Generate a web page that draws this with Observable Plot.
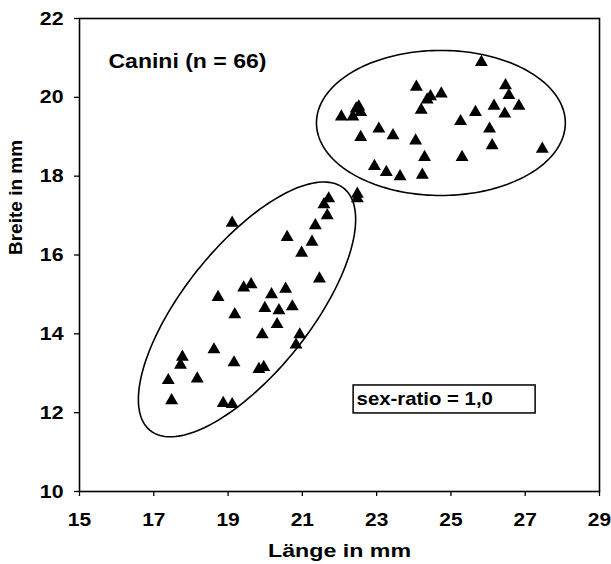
<!DOCTYPE html>
<html><head><meta charset="utf-8">
<script src="https://cdn.jsdelivr.net/npm/d3@7"></script>
<script src="https://cdn.jsdelivr.net/npm/@observablehq/plot@0.6"></script>
<style>body{margin:0;background:#fff}</style>
</head><body><div id="chart"></div>
<script>
// Lower cluster (33 teeth)
const lowerLength = [21.71,21.58,21.67,19.11,21.35,20.59,21.26,20.98,21.46,19.42,19.62,18.73,20.17,20.55,19.99,20.37,20.73,19.18,20.32,19.92,20.93,20.83,18.62,17.77,17.72,19.16,19.83,19.96,17.39,18.17,17.48,18.87,19.11];
const lowerWidth  = [17.43,17.28,17.00,16.81,16.75,16.45,16.33,16.05,15.40,15.17,15.25,14.93,15.00,15.14,14.65,14.59,14.69,14.49,14.24,13.98,13.98,13.72,13.60,13.41,13.21,13.27,13.10,13.15,12.82,12.86,12.31,12.24,12.21];
// Upper cluster (33 teeth)
const upperLength = [25.82,24.07,26.47,24.74,26.56,24.36,24.45,26.83,26.16,24.20,25.66,26.45,22.45,22.52,22.57,22.05,22.36,25.26,23.06,26.04,23.44,22.57,24.05,26.11,27.46,24.29,25.30,22.94,23.26,23.63,24.23,22.48,22.48];
const upperWidth  = [20.89,20.26,20.30,20.09,20.05,19.94,20.02,19.78,19.78,19.68,19.62,19.58,19.71,19.76,19.62,19.51,19.51,19.39,19.20,19.20,19.03,18.99,18.90,18.78,18.69,18.48,18.48,18.25,18.10,17.99,18.03,17.55,17.43];

const xTicks = [15,17,19,21,23,25,27,29];
const yTicks = [10,12,14,16,18,20,22];
const xLabel = "Länge in mm";
const yLabel = "Breite in mm";
const titleText = "Canini (n = 66)";
const ratioText = "sex-ratio = 1,0";

// group ellipses: centre and two conjugate semi-axis vectors in data units
const ellipseSpecs = [
  {cx: 19.51, cy: 14.62, ux: 2.61, uy: 3.07, vx: 1.32, vy: -1.01},
  {cx: 24.73, cy: 19.35, ux: 3.35, uy: 0, vx: 0, vy: 1.84}
];
// annotation box extent in data units
const ratioBox = [{x1: 22.38, x2: 27.28, y1: 11.98, y2: 12.69, label: ratioText}];

const points = [
  ...lowerLength.map((x, i) => ({x, y: lowerWidth[i]})),
  ...upperLength.map((x, i) => ({x, y: upperWidth[i]}))
];
const ellipsePts = [];
ellipseSpecs.forEach((e, k) => {
  for (let d = 0; d <= 360; d += 2) {
    const t = d * Math.PI / 180;
    ellipsePts.push({k, x: e.cx + e.ux*Math.cos(t) + e.vx*Math.sin(t), y: e.cy + e.uy*Math.cos(t) + e.vy*Math.sin(t)});
  }
});

const font = "'Liberation Sans', Arial, sans-serif";
const chart = Plot.plot({
  width: 611, height: 564,
  marginLeft: 79, marginRight: 12, marginTop: 18, marginBottom: 73,
  style: {fontFamily: font, fontWeight: "bold", fontSize: "19px", color: "#000", background: "#fff"},
  x: {domain: [15, 29]},
  y: {domain: [10, 22]},
  marks: [
    Plot.frame({stroke: "#000", strokeWidth: 1.6}),
    Plot.axisX({ticks: xTicks, tickSize: 5, tickPadding: 16, label: null, stroke: "#000", strokeWidth: 1.3}),
    Plot.axisY({ticks: yTicks, tickSize: 5, tickPadding: 11, label: null, stroke: "#000", strokeWidth: 1.3}),
    Plot.line(ellipsePts, {x: "x", y: "y", z: "k", stroke: "#000", strokeWidth: 1.6}),
    Plot.dot(points, {x: "x", y: "y", symbol: "triangle", r: 4.8, fill: "#000", stroke: "none"}),
    Plot.rect(ratioBox, {x1: "x1", x2: "x2", y1: "y1", y2: "y2", fill: "#fff", stroke: "#000", strokeWidth: 1.5}),
    Plot.text(ratioBox, {x: "x1", y: d => (d.y1 + d.y2) / 2, text: "label", textAnchor: "start", dx: 3, fontSize: 18.5}),
    Plot.text([titleText], {frameAnchor: "top-left", lineAnchor: "middle", text: d => d, textAnchor: "start", dx: 29, dy: 43, fontSize: 19.5}),
    Plot.text([xLabel], {frameAnchor: "bottom", lineAnchor: "middle", text: d => d, dy: 59, fontSize: 19}),
    Plot.text([yLabel], {frameAnchor: "left", text: d => d, dx: -64, rotate: -90, fontSize: 19})
  ]
});
document.getElementById("chart").append(chart);

// the reference scan is stretched horizontally: widen horizontal text glyphs to match
const stretchBy = new Map([
  ...xTicks.map(v => [String(v), 1.1]),
  ...yTicks.map(v => [String(v), 1.12]),
  [ratioText, 1.1], [titleText, 1.18], [xLabel, 1.22]
]);
chart.querySelectorAll("text").forEach(t => {
  const f = stretchBy.get(t.textContent.trim());
  if (!f) return;
  const L = t.getComputedTextLength();
  if (!(L > 0)) return;
  t.setAttribute("textLength", (L * f).toFixed(1));
  t.setAttribute("lengthAdjust", "spacingAndGlyphs");
});
</script>
</body></html>
